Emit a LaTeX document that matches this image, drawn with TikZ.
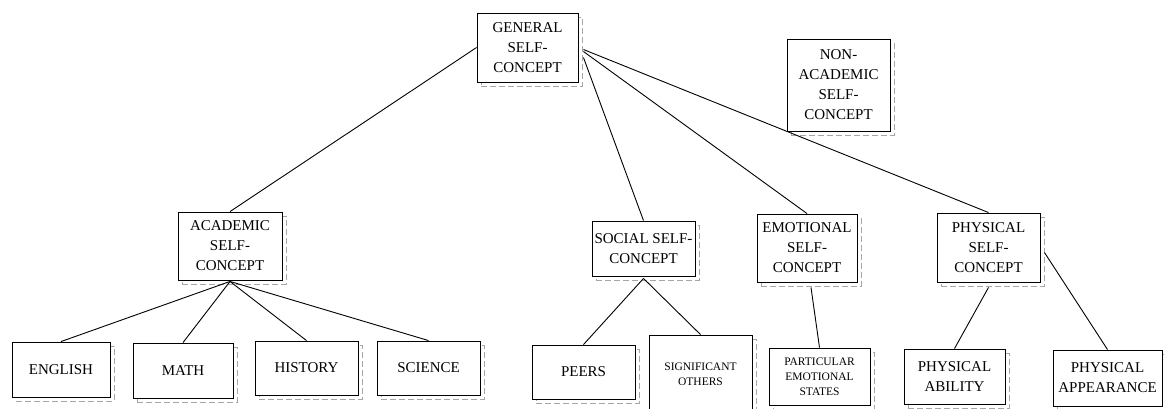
\documentclass[tikz,border=0pt]{standalone}
\usepackage{fontspec}
\setmainfont{Liberation Serif}
\usetikzlibrary{shadows}

\begin{document}
\begin{tikzpicture}[
  x=1pt, y=-1pt,
  every path/.style={line width=.9pt},
  box/.style={
    draw, fill=white, inner sep=0pt, align=center,
    font=\fontsize{15}{20}\selectfont,
    drop shadow={shadow xshift=4pt, shadow yshift=-4pt, fill=none,
      draw=black!35, dash pattern=on 6pt off 3pt, opacity=1}
  },
  smallbox/.style={box, font=\fontsize{11.5}{15}\selectfont}
]
\useasboundingbox (0,0) rectangle (1164,408);
  \node[box, minimum width=101pt, minimum height=69pt] (general) at (527.5,47.5) {GENERAL\\SELF-\\CONCEPT};
  \node[box, minimum width=103pt, minimum height=92pt] (nonacad) at (838.5,85) {NON-\\ACADEMIC\\SELF-\\CONCEPT};
  % second level
  \node[box, minimum width=104pt, minimum height=68pt] (academic) at (230,246) {ACADEMIC\\SELF-\\CONCEPT};
  \node[box, minimum width=103pt, minimum height=55pt] (social) at (643.5,248.5) {SOCIAL SELF-\\CONCEPT};
  \node[box, minimum width=100pt, minimum height=68pt] (emotional) at (807,248) {EMOTIONAL\\SELF-\\CONCEPT};
  \node[box, minimum width=103pt, minimum height=69pt] (physical) at (988.5,247.5) {PHYSICAL\\SELF-\\CONCEPT};
  % bottom row
  \node[box, minimum width=98pt, minimum height=55pt] (english) at (61,369.5) {ENGLISH};
  \node[box, minimum width=100pt, minimum height=55pt] (math) at (183,370.5) {MATH};
  \node[box, minimum width=103pt, minimum height=54pt] (history) at (306.5,368) {HISTORY};
  \node[box, minimum width=103pt, minimum height=54pt] (science) at (428.5,368) {SCIENCE};
  \node[box, minimum width=103pt, minimum height=54pt] (peers) at (583.5,372) {PEERS};
  \node[smallbox, minimum width=103pt, minimum height=79pt] (signif) at (700.5,374.5) {SIGNIFICANT\\OTHERS};
  \node[smallbox, minimum width=101pt, minimum height=57pt] (partic) at (819.5,376.5) {PARTICULAR\\EMOTIONAL\\STATES};
  \node[box, minimum width=101pt, minimum height=55pt] (ability) at (954.5,376.5) {PHYSICAL\\ABILITY};
  \node[box, minimum width=109pt, minimum height=56pt] (appear) at (1107.5,378) {PHYSICAL\\APPEARANCE};

  \draw (general.west) -- (academic.north);
  \draw ([shift={(5pt,-10pt)}]general.east) -- (social.north);
  \draw ([shift={(5pt,-4pt)}]general.east) -- (emotional.north);
  \draw ([shift={(5pt,-2pt)}]general.east) -- (physical.north);
  \foreach \sub in {english,math,history,science}
    \draw ([yshift=-1pt]academic.south) -- (\sub.north);
  \draw ([yshift=-2pt]social.south) -- (peers.north);
  \draw ([yshift=-2pt]social.south) -- (signif.north);
  \draw ([shift={(4pt,-5pt)}]emotional.south) -- (partic.north);
  \draw ([yshift=-5pt]physical.south) -- (ability.north);
  \draw ([shift={(4pt,-5pt)}]physical.east) -- (appear.north);
\end{tikzpicture}
\end{document}
